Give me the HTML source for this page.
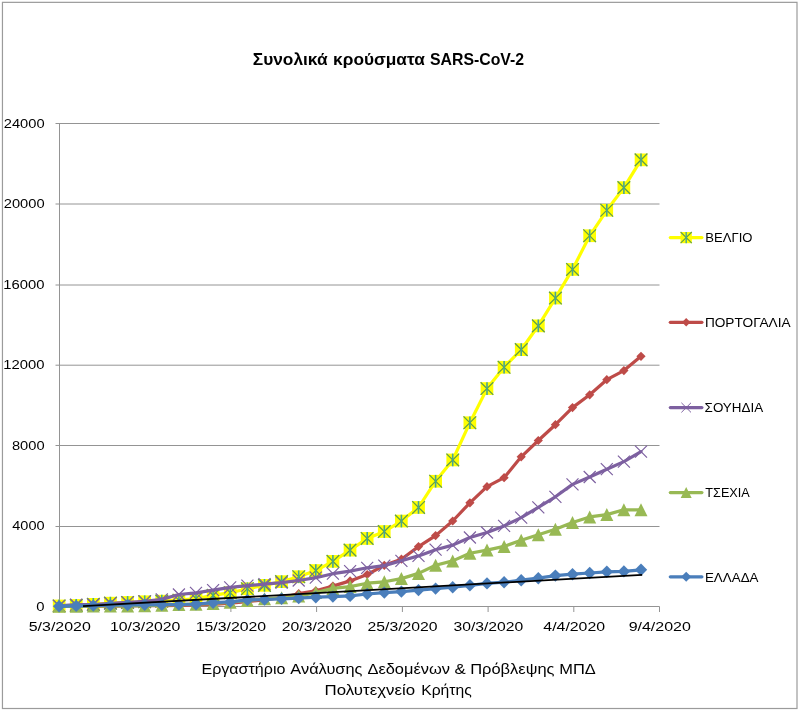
<!DOCTYPE html>
<html lang="el"><head><meta charset="utf-8"><title>Συνολικά κρούσματα SARS-CoV-2</title>
<style>
html,body{margin:0;padding:0;background:#fff;}
svg{display:block;}
text{font-family:"Liberation Sans",sans-serif;fill:#000;}
</style></head><body>
<svg width="800" height="711" viewBox="0 0 800 711">
<rect x="0" y="0" width="800" height="711" fill="#fff"/>
<rect x="2.45" y="2.35" width="794.55" height="706.15" fill="none" stroke="#9b9b9b" stroke-width="1.2"/>
<g stroke="#949494" stroke-width="1" fill="none">
<path d="M55.5 606.5H659.5"/><path d="M55.5 526.5H659.5"/><path d="M55.5 445.5H659.5"/><path d="M55.5 365.2H659.5"/><path d="M55.5 285.0H659.5"/><path d="M55.5 204.0H659.5"/><path d="M55.5 123.5H659.5"/><path d="M59.5 123.5V606.5"/><path d="M59.5 606.5V612.0"/><path d="M145.2 606.5V612.0"/><path d="M230.9 606.5V612.0"/><path d="M316.6 606.5V612.0"/><path d="M402.4 606.5V612.0"/><path d="M488.1 606.5V612.0"/><path d="M573.8 606.5V612.0"/><path d="M659.5 606.5V612.0"/></g>
<text x="36.32" y="610.50" font-size="13.6px" textLength="8.25" lengthAdjust="spacingAndGlyphs">0</text>
<text x="12.27" y="530.45" font-size="13.6px" textLength="32.29" lengthAdjust="spacingAndGlyphs">4000</text>
<text x="11.97" y="449.50" font-size="13.6px" textLength="32.60" lengthAdjust="spacingAndGlyphs">8000</text>
<text x="3.37" y="369.20" font-size="13.6px" textLength="41.20" lengthAdjust="spacingAndGlyphs">12000</text>
<text x="3.37" y="289.00" font-size="13.6px" textLength="41.20" lengthAdjust="spacingAndGlyphs">16000</text>
<text x="3.77" y="208.00" font-size="13.6px" textLength="40.80" lengthAdjust="spacingAndGlyphs">20000</text>
<text x="3.77" y="127.50" font-size="13.6px" textLength="40.80" lengthAdjust="spacingAndGlyphs">24000</text>
<text x="28.76" y="631.25" font-size="13.6px" textLength="62.05" lengthAdjust="spacingAndGlyphs">5/3/2020</text>
<text x="110.01" y="631.25" font-size="13.6px" textLength="70.42" lengthAdjust="spacingAndGlyphs">10/3/2020</text>
<text x="195.73" y="631.25" font-size="13.6px" textLength="70.42" lengthAdjust="spacingAndGlyphs">15/3/2020</text>
<text x="281.86" y="631.25" font-size="13.6px" textLength="70.00" lengthAdjust="spacingAndGlyphs">20/3/2020</text>
<text x="367.57" y="631.25" font-size="13.6px" textLength="70.00" lengthAdjust="spacingAndGlyphs">25/3/2020</text>
<text x="453.48" y="631.25" font-size="13.6px" textLength="69.80" lengthAdjust="spacingAndGlyphs">30/3/2020</text>
<text x="543.33" y="631.25" font-size="13.6px" textLength="61.77" lengthAdjust="spacingAndGlyphs">4/4/2020</text>
<text x="628.66" y="631.25" font-size="13.6px" textLength="62.16" lengthAdjust="spacingAndGlyphs">9/4/2020</text>
<polyline points="59.1,606.0 76.2,605.5 93.3,604.3 110.4,603.1 127.6,602.5 144.7,601.7 161.8,601.2 178.9,600.2 196.0,598.5 213.1,595.3 230.2,592.7 247.4,588.8 264.5,585.3 281.6,581.6 298.7,576.8 315.8,570.6 332.9,561.3 350.1,550.2 367.2,538.4 384.3,531.6 401.4,521.0 418.5,507.5 435.6,481.2 452.7,460.0 469.9,422.7 487.0,388.6 504.1,367.2 521.2,349.7 538.3,325.8 555.4,298.1 572.5,269.4 589.7,235.8 606.8,210.3 623.9,187.6 641.0,159.8" fill="none" stroke="#ffff00" stroke-width="3.2" stroke-linejoin="round" stroke-linecap="round"/>
<rect x="52.8" y="599.6" width="12.7" height="12.7" fill="#ffff00"/><path d="M52.8 599.6L65.5 612.3M52.8 612.3L65.5 599.6" stroke="#5f9f4a" stroke-width="1.3" fill="none"/><path d="M59.1 599.6L59.1 612.3" stroke="#45a594" stroke-width="1.6" fill="none"/><rect x="69.9" y="599.1" width="12.7" height="12.7" fill="#ffff00"/><path d="M69.9 599.1L82.6 611.8M69.9 611.8L82.6 599.1" stroke="#5f9f4a" stroke-width="1.3" fill="none"/><path d="M76.2 599.1L76.2 611.8" stroke="#45a594" stroke-width="1.6" fill="none"/><rect x="87.0" y="598.0" width="12.7" height="12.7" fill="#ffff00"/><path d="M87.0 598.0L99.7 610.7M87.0 610.7L99.7 598.0" stroke="#5f9f4a" stroke-width="1.3" fill="none"/><path d="M93.3 598.0L93.3 610.7" stroke="#45a594" stroke-width="1.6" fill="none"/><rect x="104.1" y="596.8" width="12.7" height="12.7" fill="#ffff00"/><path d="M104.1 596.8L116.8 609.5M104.1 609.5L116.8 596.8" stroke="#5f9f4a" stroke-width="1.3" fill="none"/><path d="M110.4 596.8L110.4 609.5" stroke="#45a594" stroke-width="1.6" fill="none"/><rect x="121.2" y="596.1" width="12.7" height="12.7" fill="#ffff00"/><path d="M121.2 596.1L133.9 608.8M121.2 608.8L133.9 596.1" stroke="#5f9f4a" stroke-width="1.3" fill="none"/><path d="M127.6 596.1L127.6 608.8" stroke="#45a594" stroke-width="1.6" fill="none"/><rect x="138.3" y="595.4" width="12.7" height="12.7" fill="#ffff00"/><path d="M138.3 595.4L151.0 608.1M138.3 608.1L151.0 595.4" stroke="#5f9f4a" stroke-width="1.3" fill="none"/><path d="M144.7 595.4L144.7 608.1" stroke="#45a594" stroke-width="1.6" fill="none"/><rect x="155.4" y="594.8" width="12.7" height="12.7" fill="#ffff00"/><path d="M155.4 594.8L168.1 607.5M155.4 607.5L168.1 594.8" stroke="#5f9f4a" stroke-width="1.3" fill="none"/><path d="M161.8 594.8L161.8 607.5" stroke="#45a594" stroke-width="1.6" fill="none"/><rect x="172.6" y="593.9" width="12.7" height="12.7" fill="#ffff00"/><path d="M172.6 593.9L185.3 606.6M172.6 606.6L185.3 593.9" stroke="#5f9f4a" stroke-width="1.3" fill="none"/><path d="M178.9 593.9L178.9 606.6" stroke="#45a594" stroke-width="1.6" fill="none"/><rect x="189.7" y="592.2" width="12.7" height="12.7" fill="#ffff00"/><path d="M189.7 592.2L202.4 604.9M189.7 604.9L202.4 592.2" stroke="#5f9f4a" stroke-width="1.3" fill="none"/><path d="M196.0 592.2L196.0 604.9" stroke="#45a594" stroke-width="1.6" fill="none"/><rect x="206.8" y="589.0" width="12.7" height="12.7" fill="#ffff00"/><path d="M206.8 589.0L219.5 601.7M206.8 601.7L219.5 589.0" stroke="#5f9f4a" stroke-width="1.3" fill="none"/><path d="M213.1 589.0L213.1 601.7" stroke="#45a594" stroke-width="1.6" fill="none"/><rect x="223.9" y="586.4" width="12.7" height="12.7" fill="#ffff00"/><path d="M223.9 586.4L236.6 599.1M223.9 599.1L236.6 586.4" stroke="#5f9f4a" stroke-width="1.3" fill="none"/><path d="M230.2 586.4L230.2 599.1" stroke="#45a594" stroke-width="1.6" fill="none"/><rect x="241.0" y="582.4" width="12.7" height="12.7" fill="#ffff00"/><path d="M241.0 582.4L253.7 595.1M241.0 595.1L253.7 582.4" stroke="#5f9f4a" stroke-width="1.3" fill="none"/><path d="M247.4 582.4L247.4 595.1" stroke="#45a594" stroke-width="1.6" fill="none"/><rect x="258.1" y="579.0" width="12.7" height="12.7" fill="#ffff00"/><path d="M258.1 579.0L270.8 591.7M258.1 591.7L270.8 579.0" stroke="#5f9f4a" stroke-width="1.3" fill="none"/><path d="M264.5 579.0L264.5 591.7" stroke="#45a594" stroke-width="1.6" fill="none"/><rect x="275.2" y="575.3" width="12.7" height="12.7" fill="#ffff00"/><path d="M275.2 575.3L287.9 588.0M275.2 588.0L287.9 575.3" stroke="#5f9f4a" stroke-width="1.3" fill="none"/><path d="M281.6 575.3L281.6 588.0" stroke="#45a594" stroke-width="1.6" fill="none"/><rect x="292.4" y="570.4" width="12.7" height="12.7" fill="#ffff00"/><path d="M292.4 570.4L305.1 583.1M292.4 583.1L305.1 570.4" stroke="#5f9f4a" stroke-width="1.3" fill="none"/><path d="M298.7 570.4L298.7 583.1" stroke="#45a594" stroke-width="1.6" fill="none"/><rect x="309.5" y="564.2" width="12.7" height="12.7" fill="#ffff00"/><path d="M309.5 564.2L322.2 576.9M309.5 576.9L322.2 564.2" stroke="#5f9f4a" stroke-width="1.3" fill="none"/><path d="M315.8 564.2L315.8 576.9" stroke="#45a594" stroke-width="1.6" fill="none"/><rect x="326.6" y="555.0" width="12.7" height="12.7" fill="#ffff00"/><path d="M326.6 555.0L339.3 567.7M326.6 567.7L339.3 555.0" stroke="#5f9f4a" stroke-width="1.3" fill="none"/><path d="M332.9 555.0L332.9 567.7" stroke="#45a594" stroke-width="1.6" fill="none"/><rect x="343.7" y="543.8" width="12.7" height="12.7" fill="#ffff00"/><path d="M343.7 543.8L356.4 556.5M343.7 556.5L356.4 543.8" stroke="#5f9f4a" stroke-width="1.3" fill="none"/><path d="M350.1 543.8L350.1 556.5" stroke="#45a594" stroke-width="1.6" fill="none"/><rect x="360.8" y="532.1" width="12.7" height="12.7" fill="#ffff00"/><path d="M360.8 532.1L373.5 544.8M360.8 544.8L373.5 532.1" stroke="#5f9f4a" stroke-width="1.3" fill="none"/><path d="M367.2 532.1L367.2 544.8" stroke="#45a594" stroke-width="1.6" fill="none"/><rect x="377.9" y="525.2" width="12.7" height="12.7" fill="#ffff00"/><path d="M377.9 525.2L390.6 537.9M377.9 537.9L390.6 525.2" stroke="#5f9f4a" stroke-width="1.3" fill="none"/><path d="M384.3 525.2L384.3 537.9" stroke="#45a594" stroke-width="1.6" fill="none"/><rect x="395.0" y="514.7" width="12.7" height="12.7" fill="#ffff00"/><path d="M395.0 514.7L407.8 527.4M395.0 527.4L407.8 514.7" stroke="#5f9f4a" stroke-width="1.3" fill="none"/><path d="M401.4 514.7L401.4 527.4" stroke="#45a594" stroke-width="1.6" fill="none"/><rect x="412.2" y="501.1" width="12.7" height="12.7" fill="#ffff00"/><path d="M412.2 501.1L424.9 513.8M412.2 513.8L424.9 501.1" stroke="#5f9f4a" stroke-width="1.3" fill="none"/><path d="M418.5 501.1L418.5 513.8" stroke="#45a594" stroke-width="1.6" fill="none"/><rect x="429.3" y="474.9" width="12.7" height="12.7" fill="#ffff00"/><path d="M429.3 474.9L442.0 487.6M429.3 487.6L442.0 474.9" stroke="#5f9f4a" stroke-width="1.3" fill="none"/><path d="M435.6 474.9L435.6 487.6" stroke="#45a594" stroke-width="1.6" fill="none"/><rect x="446.4" y="453.6" width="12.7" height="12.7" fill="#ffff00"/><path d="M446.4 453.6L459.1 466.3M446.4 466.3L459.1 453.6" stroke="#5f9f4a" stroke-width="1.3" fill="none"/><path d="M452.7 453.6L452.7 466.3" stroke="#45a594" stroke-width="1.6" fill="none"/><rect x="463.5" y="416.4" width="12.7" height="12.7" fill="#ffff00"/><path d="M463.5 416.4L476.2 429.1M463.5 429.1L476.2 416.4" stroke="#5f9f4a" stroke-width="1.3" fill="none"/><path d="M469.9 416.4L469.9 429.1" stroke="#45a594" stroke-width="1.6" fill="none"/><rect x="480.6" y="382.2" width="12.7" height="12.7" fill="#ffff00"/><path d="M480.6 382.2L493.3 394.9M480.6 394.9L493.3 382.2" stroke="#5f9f4a" stroke-width="1.3" fill="none"/><path d="M487.0 382.2L487.0 394.9" stroke="#45a594" stroke-width="1.6" fill="none"/><rect x="497.7" y="360.9" width="12.7" height="12.7" fill="#ffff00"/><path d="M497.7 360.9L510.4 373.6M497.7 373.6L510.4 360.9" stroke="#5f9f4a" stroke-width="1.3" fill="none"/><path d="M504.1 360.9L504.1 373.6" stroke="#45a594" stroke-width="1.6" fill="none"/><rect x="514.9" y="343.3" width="12.7" height="12.7" fill="#ffff00"/><path d="M514.9 343.3L527.6 356.0M514.9 356.0L527.6 343.3" stroke="#5f9f4a" stroke-width="1.3" fill="none"/><path d="M521.2 343.3L521.2 356.0" stroke="#45a594" stroke-width="1.6" fill="none"/><rect x="532.0" y="319.5" width="12.7" height="12.7" fill="#ffff00"/><path d="M532.0 319.5L544.7 332.2M532.0 332.2L544.7 319.5" stroke="#5f9f4a" stroke-width="1.3" fill="none"/><path d="M538.3 319.5L538.3 332.2" stroke="#45a594" stroke-width="1.6" fill="none"/><rect x="549.1" y="291.7" width="12.7" height="12.7" fill="#ffff00"/><path d="M549.1 291.7L561.8 304.4M549.1 304.4L561.8 291.7" stroke="#5f9f4a" stroke-width="1.3" fill="none"/><path d="M555.4 291.7L555.4 304.4" stroke="#45a594" stroke-width="1.6" fill="none"/><rect x="566.2" y="263.1" width="12.7" height="12.7" fill="#ffff00"/><path d="M566.2 263.1L578.9 275.8M566.2 275.8L578.9 263.1" stroke="#5f9f4a" stroke-width="1.3" fill="none"/><path d="M572.5 263.1L572.5 275.8" stroke="#45a594" stroke-width="1.6" fill="none"/><rect x="583.3" y="229.4" width="12.7" height="12.7" fill="#ffff00"/><path d="M583.3 229.4L596.0 242.1M583.3 242.1L596.0 229.4" stroke="#5f9f4a" stroke-width="1.3" fill="none"/><path d="M589.7 229.4L589.7 242.1" stroke="#45a594" stroke-width="1.6" fill="none"/><rect x="600.4" y="203.9" width="12.7" height="12.7" fill="#ffff00"/><path d="M600.4 203.9L613.1 216.6M600.4 216.6L613.1 203.9" stroke="#5f9f4a" stroke-width="1.3" fill="none"/><path d="M606.8 203.9L606.8 216.6" stroke="#45a594" stroke-width="1.6" fill="none"/><rect x="617.5" y="181.3" width="12.7" height="12.7" fill="#ffff00"/><path d="M617.5 181.3L630.2 194.0M617.5 194.0L630.2 181.3" stroke="#5f9f4a" stroke-width="1.3" fill="none"/><path d="M623.9 181.3L623.9 194.0" stroke="#45a594" stroke-width="1.6" fill="none"/><rect x="634.7" y="153.5" width="12.7" height="12.7" fill="#ffff00"/><path d="M634.7 153.5L647.4 166.2M634.7 166.2L647.4 153.5" stroke="#5f9f4a" stroke-width="1.3" fill="none"/><path d="M641.0 153.5L641.0 166.2" stroke="#45a594" stroke-width="1.6" fill="none"/>
<polyline points="59.1,606.4 76.2,606.3 93.3,606.2 110.4,606.1 127.6,605.9 144.7,605.7 161.8,605.7 178.9,605.3 196.0,604.9 213.1,604.3 230.2,603.1 247.4,601.6 264.5,599.9 281.6,597.5 298.7,593.7 315.8,590.8 332.9,586.1 350.1,580.9 367.2,574.5 384.3,565.3 401.4,559.2 418.5,546.6 435.6,535.6 452.7,521.0 469.9,502.8 487.0,486.7 504.1,477.7 521.2,456.8 538.3,440.5 555.4,424.7 572.5,407.6 589.7,394.8 606.8,379.7 623.9,370.6 641.0,356.3" fill="none" stroke="#be4b48" stroke-width="3.2" stroke-linejoin="round" stroke-linecap="round"/>
<path d="M59.1 601.8L63.7 606.4L59.1 611.0L54.5 606.4Z" fill="#be4b48"/><path d="M76.2 601.7L80.8 606.3L76.2 610.9L71.6 606.3Z" fill="#be4b48"/><path d="M93.3 601.6L97.9 606.2L93.3 610.8L88.7 606.2Z" fill="#be4b48"/><path d="M110.4 601.5L115.0 606.1L110.4 610.7L105.8 606.1Z" fill="#be4b48"/><path d="M127.6 601.3L132.2 605.9L127.6 610.5L123.0 605.9Z" fill="#be4b48"/><path d="M144.7 601.1L149.3 605.7L144.7 610.3L140.1 605.7Z" fill="#be4b48"/><path d="M161.8 601.1L166.4 605.7L161.8 610.3L157.2 605.7Z" fill="#be4b48"/><path d="M178.9 600.7L183.5 605.3L178.9 609.9L174.3 605.3Z" fill="#be4b48"/><path d="M196.0 600.3L200.6 604.9L196.0 609.5L191.4 604.9Z" fill="#be4b48"/><path d="M213.1 599.7L217.7 604.3L213.1 608.9L208.5 604.3Z" fill="#be4b48"/><path d="M230.2 598.5L234.8 603.1L230.2 607.7L225.6 603.1Z" fill="#be4b48"/><path d="M247.4 597.0L252.0 601.6L247.4 606.2L242.8 601.6Z" fill="#be4b48"/><path d="M264.5 595.3L269.1 599.9L264.5 604.5L259.9 599.9Z" fill="#be4b48"/><path d="M281.6 592.9L286.2 597.5L281.6 602.1L277.0 597.5Z" fill="#be4b48"/><path d="M298.7 589.1L303.3 593.7L298.7 598.3L294.1 593.7Z" fill="#be4b48"/><path d="M315.8 586.2L320.4 590.8L315.8 595.4L311.2 590.8Z" fill="#be4b48"/><path d="M332.9 581.5L337.5 586.1L332.9 590.7L328.3 586.1Z" fill="#be4b48"/><path d="M350.1 576.3L354.7 580.9L350.1 585.5L345.5 580.9Z" fill="#be4b48"/><path d="M367.2 569.9L371.8 574.5L367.2 579.1L362.6 574.5Z" fill="#be4b48"/><path d="M384.3 560.7L388.9 565.3L384.3 569.9L379.7 565.3Z" fill="#be4b48"/><path d="M401.4 554.6L406.0 559.2L401.4 563.8L396.8 559.2Z" fill="#be4b48"/><path d="M418.5 542.0L423.1 546.6L418.5 551.2L413.9 546.6Z" fill="#be4b48"/><path d="M435.6 531.0L440.2 535.6L435.6 540.2L431.0 535.6Z" fill="#be4b48"/><path d="M452.7 516.4L457.3 521.0L452.7 525.6L448.1 521.0Z" fill="#be4b48"/><path d="M469.9 498.2L474.5 502.8L469.9 507.4L465.3 502.8Z" fill="#be4b48"/><path d="M487.0 482.1L491.6 486.7L487.0 491.3L482.4 486.7Z" fill="#be4b48"/><path d="M504.1 473.1L508.7 477.7L504.1 482.3L499.5 477.7Z" fill="#be4b48"/><path d="M521.2 452.2L525.8 456.8L521.2 461.4L516.6 456.8Z" fill="#be4b48"/><path d="M538.3 435.9L542.9 440.5L538.3 445.1L533.7 440.5Z" fill="#be4b48"/><path d="M555.4 420.1L560.0 424.7L555.4 429.3L550.8 424.7Z" fill="#be4b48"/><path d="M572.5 403.0L577.1 407.6L572.5 412.2L567.9 407.6Z" fill="#be4b48"/><path d="M589.7 390.2L594.3 394.8L589.7 399.4L585.1 394.8Z" fill="#be4b48"/><path d="M606.8 375.1L611.4 379.7L606.8 384.3L602.2 379.7Z" fill="#be4b48"/><path d="M623.9 366.0L628.5 370.6L623.9 375.2L619.3 370.6Z" fill="#be4b48"/><path d="M641.0 351.7L645.6 356.3L641.0 360.9L636.4 356.3Z" fill="#be4b48"/>
<polyline points="59.1,605.8 76.2,604.6 93.3,604.5 110.4,603.3 127.6,602.4 144.7,601.3 161.8,599.4 178.9,594.5 196.0,592.8 213.1,590.2 230.2,587.3 247.4,585.7 264.5,584.1 281.6,582.6 298.7,580.5 315.8,577.7 332.9,573.7 350.1,571.1 367.2,567.8 384.3,565.6 401.4,560.8 418.5,555.9 435.6,549.7 452.7,545.1 469.9,537.5 487.0,532.5 504.1,525.9 521.2,517.6 538.3,507.3 555.4,496.8 572.5,484.4 589.7,477.0 606.8,469.2 623.9,461.6 641.0,451.7" fill="none" stroke="#7d60a0" stroke-width="3.2" stroke-linejoin="round" stroke-linecap="round"/>
<path d="M53.1 599.8L65.1 611.8M53.1 611.8L65.1 599.8" stroke="#7d60a0" stroke-width="1.2" fill="none"/><path d="M70.2 598.6L82.2 610.6M70.2 610.6L82.2 598.6" stroke="#7d60a0" stroke-width="1.2" fill="none"/><path d="M87.3 598.5L99.3 610.5M87.3 610.5L99.3 598.5" stroke="#7d60a0" stroke-width="1.2" fill="none"/><path d="M104.4 597.3L116.4 609.3M104.4 609.3L116.4 597.3" stroke="#7d60a0" stroke-width="1.2" fill="none"/><path d="M121.6 596.4L133.6 608.4M121.6 608.4L133.6 596.4" stroke="#7d60a0" stroke-width="1.2" fill="none"/><path d="M138.7 595.3L150.7 607.3M138.7 607.3L150.7 595.3" stroke="#7d60a0" stroke-width="1.2" fill="none"/><path d="M155.8 593.4L167.8 605.4M155.8 605.4L167.8 593.4" stroke="#7d60a0" stroke-width="1.2" fill="none"/><path d="M172.9 588.5L184.9 600.5M172.9 600.5L184.9 588.5" stroke="#7d60a0" stroke-width="1.2" fill="none"/><path d="M190.0 586.8L202.0 598.8M190.0 598.8L202.0 586.8" stroke="#7d60a0" stroke-width="1.2" fill="none"/><path d="M207.1 584.2L219.1 596.2M207.1 596.2L219.1 584.2" stroke="#7d60a0" stroke-width="1.2" fill="none"/><path d="M224.2 581.3L236.2 593.3M224.2 593.3L236.2 581.3" stroke="#7d60a0" stroke-width="1.2" fill="none"/><path d="M241.4 579.7L253.4 591.7M241.4 591.7L253.4 579.7" stroke="#7d60a0" stroke-width="1.2" fill="none"/><path d="M258.5 578.1L270.5 590.1M258.5 590.1L270.5 578.1" stroke="#7d60a0" stroke-width="1.2" fill="none"/><path d="M275.6 576.6L287.6 588.6M275.6 588.6L287.6 576.6" stroke="#7d60a0" stroke-width="1.2" fill="none"/><path d="M292.7 574.5L304.7 586.5M292.7 586.5L304.7 574.5" stroke="#7d60a0" stroke-width="1.2" fill="none"/><path d="M309.8 571.7L321.8 583.7M309.8 583.7L321.8 571.7" stroke="#7d60a0" stroke-width="1.2" fill="none"/><path d="M326.9 567.7L338.9 579.7M326.9 579.7L338.9 567.7" stroke="#7d60a0" stroke-width="1.2" fill="none"/><path d="M344.1 565.1L356.1 577.1M344.1 577.1L356.1 565.1" stroke="#7d60a0" stroke-width="1.2" fill="none"/><path d="M361.2 561.8L373.2 573.8M361.2 573.8L373.2 561.8" stroke="#7d60a0" stroke-width="1.2" fill="none"/><path d="M378.3 559.6L390.3 571.6M378.3 571.6L390.3 559.6" stroke="#7d60a0" stroke-width="1.2" fill="none"/><path d="M395.4 554.8L407.4 566.8M395.4 566.8L407.4 554.8" stroke="#7d60a0" stroke-width="1.2" fill="none"/><path d="M412.5 549.9L424.5 561.9M412.5 561.9L424.5 549.9" stroke="#7d60a0" stroke-width="1.2" fill="none"/><path d="M429.6 543.7L441.6 555.7M429.6 555.7L441.6 543.7" stroke="#7d60a0" stroke-width="1.2" fill="none"/><path d="M446.7 539.1L458.7 551.1M446.7 551.1L458.7 539.1" stroke="#7d60a0" stroke-width="1.2" fill="none"/><path d="M463.9 531.5L475.9 543.5M463.9 543.5L475.9 531.5" stroke="#7d60a0" stroke-width="1.2" fill="none"/><path d="M481.0 526.5L493.0 538.5M481.0 538.5L493.0 526.5" stroke="#7d60a0" stroke-width="1.2" fill="none"/><path d="M498.1 519.9L510.1 531.9M498.1 531.9L510.1 519.9" stroke="#7d60a0" stroke-width="1.2" fill="none"/><path d="M515.2 511.6L527.2 523.6M515.2 523.6L527.2 511.6" stroke="#7d60a0" stroke-width="1.2" fill="none"/><path d="M532.3 501.3L544.3 513.3M532.3 513.3L544.3 501.3" stroke="#7d60a0" stroke-width="1.2" fill="none"/><path d="M549.4 490.8L561.4 502.8M549.4 502.8L561.4 490.8" stroke="#7d60a0" stroke-width="1.2" fill="none"/><path d="M566.5 478.4L578.5 490.4M566.5 490.4L578.5 478.4" stroke="#7d60a0" stroke-width="1.2" fill="none"/><path d="M583.7 471.0L595.7 483.0M583.7 483.0L595.7 471.0" stroke="#7d60a0" stroke-width="1.2" fill="none"/><path d="M600.8 463.2L612.8 475.2M600.8 475.2L612.8 463.2" stroke="#7d60a0" stroke-width="1.2" fill="none"/><path d="M617.9 455.6L629.9 467.6M617.9 467.6L629.9 455.6" stroke="#7d60a0" stroke-width="1.2" fill="none"/><path d="M635.0 445.7L647.0 457.7M635.0 457.7L647.0 445.7" stroke="#7d60a0" stroke-width="1.2" fill="none"/>
<polyline points="59.1,606.3 76.2,606.3 93.3,606.1 110.4,606.0 127.6,605.9 144.7,605.7 161.8,605.2 178.9,604.6 196.0,604.2 213.1,603.5 230.2,602.2 247.4,600.5 264.5,598.8 281.6,597.8 298.7,596.1 315.8,592.6 332.9,588.4 350.1,586.6 367.2,583.2 384.3,581.8 401.4,578.6 418.5,573.4 435.6,565.2 452.7,560.9 469.9,553.3 487.0,550.1 504.1,546.4 521.2,540.3 538.3,534.7 555.4,529.3 572.5,522.6 589.7,516.9 606.8,514.6 623.9,509.8 641.0,509.8" fill="none" stroke="#98b954" stroke-width="3.2" stroke-linejoin="round" stroke-linecap="round"/>
<path d="M59.1 599.8L65.6 612.8L52.6 612.8Z" fill="#98b954"/><path d="M76.2 599.8L82.7 612.8L69.7 612.8Z" fill="#98b954"/><path d="M93.3 599.6L99.8 612.6L86.8 612.6Z" fill="#98b954"/><path d="M110.4 599.5L116.9 612.5L103.9 612.5Z" fill="#98b954"/><path d="M127.6 599.4L134.1 612.4L121.1 612.4Z" fill="#98b954"/><path d="M144.7 599.2L151.2 612.2L138.2 612.2Z" fill="#98b954"/><path d="M161.8 598.7L168.3 611.7L155.3 611.7Z" fill="#98b954"/><path d="M178.9 598.1L185.4 611.1L172.4 611.1Z" fill="#98b954"/><path d="M196.0 597.7L202.5 610.7L189.5 610.7Z" fill="#98b954"/><path d="M213.1 597.0L219.6 610.0L206.6 610.0Z" fill="#98b954"/><path d="M230.2 595.7L236.7 608.7L223.7 608.7Z" fill="#98b954"/><path d="M247.4 594.0L253.9 607.0L240.9 607.0Z" fill="#98b954"/><path d="M264.5 592.3L271.0 605.3L258.0 605.3Z" fill="#98b954"/><path d="M281.6 591.3L288.1 604.3L275.1 604.3Z" fill="#98b954"/><path d="M298.7 589.6L305.2 602.6L292.2 602.6Z" fill="#98b954"/><path d="M315.8 586.1L322.3 599.1L309.3 599.1Z" fill="#98b954"/><path d="M332.9 581.9L339.4 594.9L326.4 594.9Z" fill="#98b954"/><path d="M350.1 580.1L356.6 593.1L343.6 593.1Z" fill="#98b954"/><path d="M367.2 576.7L373.7 589.7L360.7 589.7Z" fill="#98b954"/><path d="M384.3 575.3L390.8 588.3L377.8 588.3Z" fill="#98b954"/><path d="M401.4 572.1L407.9 585.1L394.9 585.1Z" fill="#98b954"/><path d="M418.5 566.9L425.0 579.9L412.0 579.9Z" fill="#98b954"/><path d="M435.6 558.7L442.1 571.7L429.1 571.7Z" fill="#98b954"/><path d="M452.7 554.4L459.2 567.4L446.2 567.4Z" fill="#98b954"/><path d="M469.9 546.8L476.4 559.8L463.4 559.8Z" fill="#98b954"/><path d="M487.0 543.6L493.5 556.6L480.5 556.6Z" fill="#98b954"/><path d="M504.1 539.9L510.6 552.9L497.6 552.9Z" fill="#98b954"/><path d="M521.2 533.8L527.7 546.8L514.7 546.8Z" fill="#98b954"/><path d="M538.3 528.2L544.8 541.2L531.8 541.2Z" fill="#98b954"/><path d="M555.4 522.8L561.9 535.8L548.9 535.8Z" fill="#98b954"/><path d="M572.5 516.1L579.0 529.1L566.0 529.1Z" fill="#98b954"/><path d="M589.7 510.4L596.2 523.4L583.2 523.4Z" fill="#98b954"/><path d="M606.8 508.1L613.3 521.1L600.3 521.1Z" fill="#98b954"/><path d="M623.9 503.3L630.4 516.3L617.4 516.3Z" fill="#98b954"/><path d="M641.0 503.3L647.5 516.3L634.5 516.3Z" fill="#98b954"/>
<polyline points="59.1,606.3 76.2,605.9 93.3,605.6 110.4,605.2 127.6,605.0 144.7,604.8 161.8,604.7 178.9,604.5 196.0,604.2 213.1,602.7 230.2,601.9 247.4,599.9 264.5,599.5 281.6,598.8 298.7,598.1 315.8,597.2 332.9,596.6 350.1,595.9 367.2,594.0 384.3,592.6 401.4,591.6 418.5,590.1 435.6,588.6 452.7,587.2 469.9,585.3 487.0,583.4 504.1,582.2 521.2,580.2 538.3,578.2 555.4,575.6 572.5,574.2 589.7,573.0 606.8,571.8 623.9,571.4 641.0,569.8" fill="none" stroke="#4a7ebb" stroke-width="3.2" stroke-linejoin="round" stroke-linecap="round"/>
<path d="M59.1 600.1L65.3 606.3L59.1 612.5L52.9 606.3Z" fill="#4a7ebb"/><path d="M76.2 599.7L82.4 605.9L76.2 612.1L70.0 605.9Z" fill="#4a7ebb"/><path d="M93.3 599.4L99.5 605.6L93.3 611.8L87.1 605.6Z" fill="#4a7ebb"/><path d="M110.4 599.0L116.6 605.2L110.4 611.4L104.2 605.2Z" fill="#4a7ebb"/><path d="M127.6 598.8L133.8 605.0L127.6 611.2L121.4 605.0Z" fill="#4a7ebb"/><path d="M144.7 598.6L150.9 604.8L144.7 611.0L138.5 604.8Z" fill="#4a7ebb"/><path d="M161.8 598.5L168.0 604.7L161.8 610.9L155.6 604.7Z" fill="#4a7ebb"/><path d="M178.9 598.3L185.1 604.5L178.9 610.7L172.7 604.5Z" fill="#4a7ebb"/><path d="M196.0 598.0L202.2 604.2L196.0 610.4L189.8 604.2Z" fill="#4a7ebb"/><path d="M213.1 596.5L219.3 602.7L213.1 608.9L206.9 602.7Z" fill="#4a7ebb"/><path d="M230.2 595.7L236.4 601.9L230.2 608.1L224.0 601.9Z" fill="#4a7ebb"/><path d="M247.4 593.7L253.6 599.9L247.4 606.1L241.2 599.9Z" fill="#4a7ebb"/><path d="M264.5 593.3L270.7 599.5L264.5 605.7L258.3 599.5Z" fill="#4a7ebb"/><path d="M281.6 592.6L287.8 598.8L281.6 605.0L275.4 598.8Z" fill="#4a7ebb"/><path d="M298.7 591.9L304.9 598.1L298.7 604.3L292.5 598.1Z" fill="#4a7ebb"/><path d="M315.8 591.0L322.0 597.2L315.8 603.4L309.6 597.2Z" fill="#4a7ebb"/><path d="M332.9 590.4L339.1 596.6L332.9 602.8L326.7 596.6Z" fill="#4a7ebb"/><path d="M350.1 589.7L356.3 595.9L350.1 602.1L343.9 595.9Z" fill="#4a7ebb"/><path d="M367.2 587.8L373.4 594.0L367.2 600.2L361.0 594.0Z" fill="#4a7ebb"/><path d="M384.3 586.4L390.5 592.6L384.3 598.8L378.1 592.6Z" fill="#4a7ebb"/><path d="M401.4 585.4L407.6 591.6L401.4 597.8L395.2 591.6Z" fill="#4a7ebb"/><path d="M418.5 583.9L424.7 590.1L418.5 596.3L412.3 590.1Z" fill="#4a7ebb"/><path d="M435.6 582.4L441.8 588.6L435.6 594.8L429.4 588.6Z" fill="#4a7ebb"/><path d="M452.7 581.0L458.9 587.2L452.7 593.4L446.5 587.2Z" fill="#4a7ebb"/><path d="M469.9 579.1L476.1 585.3L469.9 591.5L463.7 585.3Z" fill="#4a7ebb"/><path d="M487.0 577.2L493.2 583.4L487.0 589.6L480.8 583.4Z" fill="#4a7ebb"/><path d="M504.1 576.0L510.3 582.2L504.1 588.4L497.9 582.2Z" fill="#4a7ebb"/><path d="M521.2 574.0L527.4 580.2L521.2 586.4L515.0 580.2Z" fill="#4a7ebb"/><path d="M538.3 572.0L544.5 578.2L538.3 584.4L532.1 578.2Z" fill="#4a7ebb"/><path d="M555.4 569.4L561.6 575.6L555.4 581.8L549.2 575.6Z" fill="#4a7ebb"/><path d="M572.5 568.0L578.8 574.2L572.5 580.4L566.3 574.2Z" fill="#4a7ebb"/><path d="M589.7 566.8L595.9 573.0L589.7 579.2L583.5 573.0Z" fill="#4a7ebb"/><path d="M606.8 565.6L613.0 571.8L606.8 578.0L600.6 571.8Z" fill="#4a7ebb"/><path d="M623.9 565.2L630.1 571.4L623.9 577.6L617.7 571.4Z" fill="#4a7ebb"/><path d="M641.0 563.6L647.2 569.8L641.0 576.0L634.8 569.8Z" fill="#4a7ebb"/>
<path d="M83.0 606.2L642.2 574.8" stroke="#000" stroke-width="1.8" fill="none"/>
<path d="M670.3 237.6H701.9" stroke="#ffff00" stroke-width="3.2" stroke-linecap="round" fill="none"/><rect x="680.6" y="232.0" width="11.2" height="11.2" fill="#ffff00"/><path d="M680.6 232.0L691.8 243.2M680.6 243.2L691.8 232.0" stroke="#5f9f4a" stroke-width="1.1" fill="none"/><path d="M686.2 232.0L686.2 243.2" stroke="#45a594" stroke-width="1.4000000000000001" fill="none"/><text x="705.33" y="241.75" font-size="13.7px" textLength="47.10" lengthAdjust="spacingAndGlyphs">ΒΕΛΓΙΟ</text>
<path d="M670.3 322.3H701.9" stroke="#be4b48" stroke-width="3.2" stroke-linecap="round" fill="none"/><path d="M686.2 318.1L690.4 322.3L686.2 326.5L682.0 322.3Z" fill="#be4b48"/><text x="704.88" y="326.60" font-size="13.7px" textLength="85.74" lengthAdjust="spacingAndGlyphs">ΠΟΡΤΟΓΑΛΙΑ</text>
<path d="M670.3 407.6H701.9" stroke="#7d60a0" stroke-width="3.2" stroke-linecap="round" fill="none"/><path d="M681.4 402.8L691.0 412.4M681.4 412.4L691.0 402.8" stroke="#7d60a0" stroke-width="1.0" fill="none"/><text x="704.60" y="411.60" font-size="13.7px" textLength="58.53" lengthAdjust="spacingAndGlyphs">ΣΟΥΗΔΙΑ</text>
<path d="M670.3 492.6H701.9" stroke="#98b954" stroke-width="3.2" stroke-linecap="round" fill="none"/><path d="M686.2 487.1L691.7 498.1L680.7 498.1Z" fill="#98b954"/><text x="705.32" y="496.80" font-size="13.7px" textLength="44.45" lengthAdjust="spacingAndGlyphs">ΤΣΕΧΙΑ</text>
<path d="M670.3 576.8H701.9" stroke="#4a7ebb" stroke-width="3.2" stroke-linecap="round" fill="none"/><path d="M686.2 571.8L691.2 576.8L686.2 581.8L681.2 576.8Z" fill="#4a7ebb"/><text x="704.90" y="581.60" font-size="13.7px" textLength="53.62" lengthAdjust="spacingAndGlyphs">ΕΛΛΑΔΑ</text>
<text x="252.75" y="64.80" font-size="17.3px" font-weight="bold" textLength="74.83" lengthAdjust="spacingAndGlyphs">Συνολικά</text>
<text x="333.10" y="64.80" font-size="17.3px" font-weight="bold" textLength="91.67" lengthAdjust="spacingAndGlyphs">κρούσματα</text>
<text x="430.05" y="64.80" font-size="17.3px" font-weight="bold" textLength="94.08" lengthAdjust="spacingAndGlyphs">SARS-CoV-2</text>
<text x="201.43" y="673.60" font-size="15.2px" textLength="83.98" lengthAdjust="spacingAndGlyphs">Εργαστήριο</text>
<text x="290.38" y="673.60" font-size="15.2px" textLength="72.02" lengthAdjust="spacingAndGlyphs">Ανάλυσης</text>
<text x="367.42" y="673.60" font-size="15.2px" textLength="82.61" lengthAdjust="spacingAndGlyphs">Δεδομένων</text>
<text x="454.61" y="673.60" font-size="15.2px" textLength="11.25" lengthAdjust="spacingAndGlyphs">&amp;</text>
<text x="470.15" y="673.60" font-size="15.2px" textLength="84.36" lengthAdjust="spacingAndGlyphs">Πρόβλεψης</text>
<text x="559.25" y="673.60" font-size="15.2px" textLength="36.49" lengthAdjust="spacingAndGlyphs">ΜΠΔ</text>
<text x="324.62" y="695.40" font-size="15.2px" textLength="90.48" lengthAdjust="spacingAndGlyphs">Πολυτεχνείο</text>
<text x="421.21" y="695.40" font-size="15.2px" textLength="50.57" lengthAdjust="spacingAndGlyphs">Κρήτης</text>
</svg>
</body></html>
